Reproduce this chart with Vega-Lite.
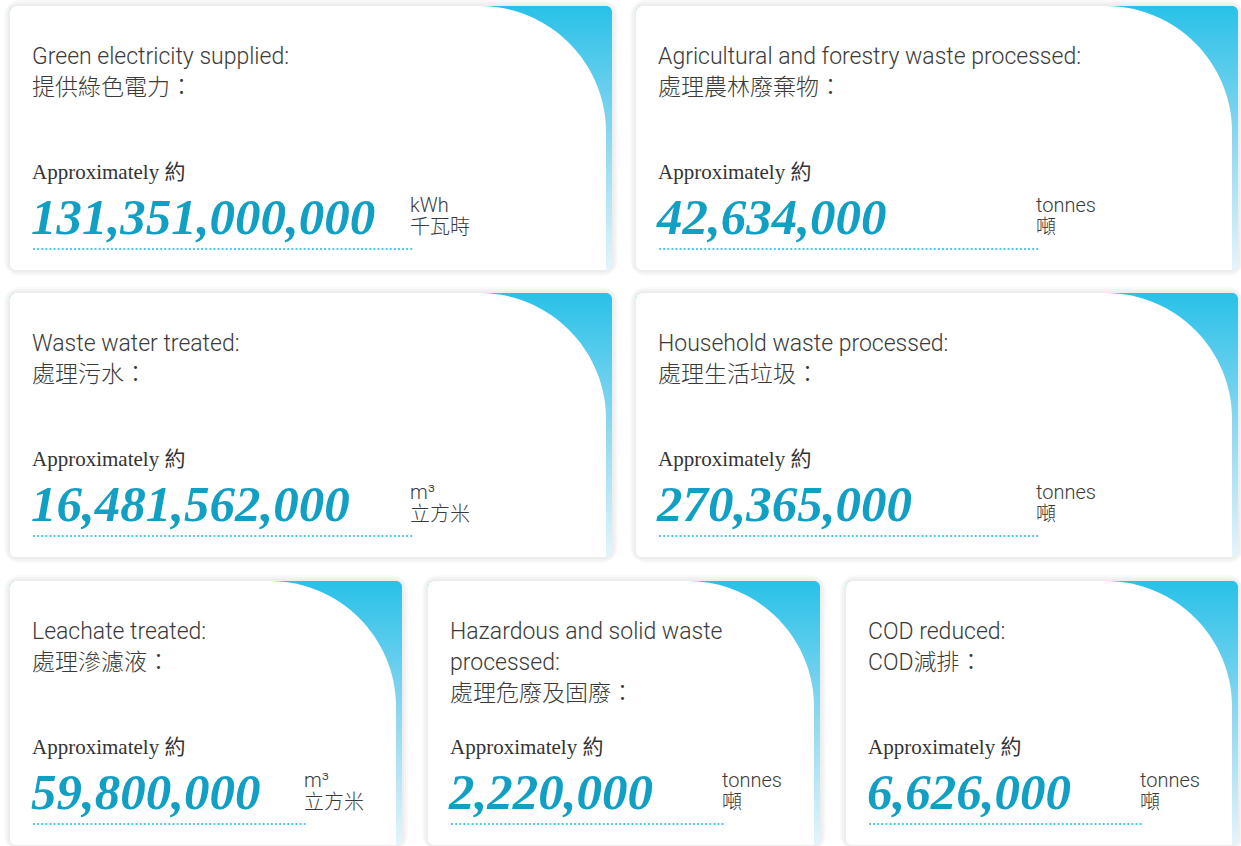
{
  "$schema": "https://vega.github.io/schema/vega-lite/v6.json",
  "background": "white",
  "padding": {"left": 4, "top": 0, "right": 0, "bottom": 0},
  "config": {"view": {"stroke": null}, "axis": {"disable": true}, "header": {"labels": false, "labelFontSize": 0, "labelPadding": 0, "titleFontSize": 0, "titlePadding": 0}},
  "datasets": {
    "cards": [
      {"id": 1, "label": "Green electricity supplied:\n提供綠色電力：", "value": 131351000000, "unit_en": "kWh", "unit_zh": "千瓦時"},
      {"id": 2, "label": "Agricultural and forestry waste processed:\n處理農林廢棄物：", "value": 42634000, "unit_en": "tonnes", "unit_zh": "噸"},
      {"id": 3, "label": "Waste water treated:\n處理污水：", "value": 16481562000, "unit_en": "m³", "unit_zh": "立方米"},
      {"id": 4, "label": "Household waste processed:\n處理生活垃圾：", "value": 270365000, "unit_en": "tonnes", "unit_zh": "噸"},
      {"id": 5, "label": "Leachate treated:\n處理滲濾液：", "value": 59800000, "unit_en": "m³", "unit_zh": "立方米"},
      {"id": 6, "label": "Hazardous and solid waste\nprocessed:\n處理危廢及固廢：", "value": 2220000, "unit_en": "tonnes", "unit_zh": "噸"},
      {"id": 7, "label": "COD reduced:\nCOD減排：", "value": 6626000, "unit_en": "tonnes", "unit_zh": "噸"}
    ]
  },
  "spacing": 12,
  "vconcat": [
    {
      "data": {"name": "cards"},
      "transform": [{"filter": "datum.id <= 4"}],
      "facet": {"field": "id", "type": "ordinal", "header": {"title": null, "labels": false, "labelExpr": "''", "labelFontSize": 0, "labelPadding": 0}},
      "columns": 2,
      "spacing": {"row": 11, "column": 12},
      "spec": {
        "width": 602,
        "height": 264,
        "layer": [
          {"mark": {"type": "rect", "fillOpacity": 0, "stroke": "#000", "strokeOpacity": 0.022, "strokeWidth": 12, "cornerRadius": 10},
           "encoding": {"x": {"datum": 0, "type": "quantitative", "scale": {"domain": [0, 602]}}, "x2": {"datum": 602}, "y": {"datum": 0, "type": "quantitative", "scale": {"domain": [0, 264], "reverse": true}}, "y2": {"datum": 264}}},
          {"mark": {"type": "rect", "fillOpacity": 0, "stroke": "#000", "strokeOpacity": 0.022, "strokeWidth": 8, "cornerRadius": 8},
           "encoding": {"x": {"datum": 0, "type": "quantitative", "scale": {"domain": [0, 602]}}, "x2": {"datum": 602}, "y": {"datum": 0, "type": "quantitative", "scale": {"domain": [0, 264], "reverse": true}}, "y2": {"datum": 264}}},
          {"mark": {"type": "rect", "fillOpacity": 0, "stroke": "#000", "strokeOpacity": 0.025, "strokeWidth": 4, "cornerRadius": 7},
           "encoding": {"x": {"datum": 0, "type": "quantitative", "scale": {"domain": [0, 602]}}, "x2": {"datum": 602}, "y": {"datum": 0, "type": "quantitative", "scale": {"domain": [0, 264], "reverse": true}}, "y2": {"datum": 264}}},
          {"mark": {"type": "rect", "cornerRadius": 6, "opacity": 1, "color": {"gradient": "linear", "x1": 0, "y1": 0, "x2": 0, "y2": 1, "stops": [{"offset": 0, "color": "#29c1e8"}, {"offset": 0.5, "color": "#8cd7f0"}, {"offset": 1, "color": "#e4f5fb"}]}},
           "encoding": {"x": {"datum": 0, "type": "quantitative", "scale": {"domain": [0, 602]}}, "x2": {"datum": 602}, "y": {"datum": 0, "type": "quantitative", "scale": {"domain": [0, 264], "reverse": true}}, "y2": {"datum": 264}}},
          {"mark": {"type": "rect", "color": "#ffffff", "opacity": 1, "cornerRadiusTopLeft": 6, "cornerRadiusBottomLeft": 6, "cornerRadiusTopRight": 126},
           "encoding": {"x": {"datum": 0, "type": "quantitative", "scale": {"domain": [0, 602]}}, "x2": {"datum": 596}, "y": {"datum": 0, "type": "quantitative", "scale": {"domain": [0, 264], "reverse": true}}, "y2": {"datum": 264}}},
          {"mark": {"type": "text", "align": "left", "baseline": "alphabetic", "lineBreak": "\n", "lineHeight": 31, "font": "Roboto, Noto Sans CJK TC", "fontWeight": 300, "fontSize": 23, "letterSpacing": 0.6, "color": "#3a3a3a"},
           "encoding": {"text": {"field": "label"}, "x": {"datum": 22, "type": "quantitative", "scale": {"domain": [0, 602]}}, "y": {"datum": 58, "type": "quantitative", "scale": {"domain": [0, 264], "reverse": true}}}},
          {"mark": {"type": "text", "align": "left", "baseline": "alphabetic", "font": "Liberation Serif, Noto Sans CJK TC", "fontSize": 21, "color": "#333333"},
           "encoding": {"text": {"value": "Approximately 約"}, "x": {"datum": 22, "type": "quantitative", "scale": {"domain": [0, 602]}}, "y": {"datum": 173, "type": "quantitative", "scale": {"domain": [0, 264], "reverse": true}}}},
          {"mark": {"type": "text", "align": "left", "baseline": "alphabetic", "font": "Liberation Serif", "fontStyle": "italic", "fontWeight": "bold", "fontSize": 51, "color": "#11a0c4"},
           "encoding": {"text": {"field": "value", "type": "quantitative", "format": ","}, "x": {"datum": 21, "type": "quantitative", "scale": {"domain": [0, 602]}}, "y": {"datum": 228, "type": "quantitative", "scale": {"domain": [0, 264], "reverse": true}}}},
          {"mark": {"type": "rule", "color": "#3fc2e7", "strokeWidth": 2.2, "strokeCap": "round", "strokeDash": [0.1, 4]},
           "encoding": {"x": {"datum": 24, "type": "quantitative", "scale": {"domain": [0, 602]}}, "x2": {"datum": 403}, "y": {"datum": 243, "type": "quantitative", "scale": {"domain": [0, 264], "reverse": true}}}},
          {"mark": {"type": "text", "align": "left", "baseline": "alphabetic", "font": "Roboto", "fontWeight": 300, "fontSize": 20, "color": "#3a3a3a"},
           "encoding": {"text": {"field": "unit_en"}, "x": {"datum": 400, "type": "quantitative", "scale": {"domain": [0, 602]}}, "y": {"datum": 206, "type": "quantitative", "scale": {"domain": [0, 264], "reverse": true}}}},
          {"mark": {"type": "text", "align": "left", "baseline": "alphabetic", "font": "Noto Sans CJK TC", "fontWeight": 300, "fontSize": 20, "color": "#3a3a3a"},
           "encoding": {"text": {"field": "unit_zh"}, "x": {"datum": 400, "type": "quantitative", "scale": {"domain": [0, 602]}}, "y": {"datum": 228, "type": "quantitative", "scale": {"domain": [0, 264], "reverse": true}}}}
        ]
      }
    },
    {
      "data": {"name": "cards"},
      "transform": [{"filter": "datum.id >= 5"}],
      "facet": {"field": "id", "type": "ordinal", "header": {"title": null, "labels": false, "labelExpr": "''", "labelFontSize": 0, "labelPadding": 0}},
      "columns": 3,
      "spacing": {"row": 11, "column": 14},
      "spec": {
        "width": 392,
        "height": 264,
        "layer": [
          {"mark": {"type": "rect", "fillOpacity": 0, "stroke": "#000", "strokeOpacity": 0.022, "strokeWidth": 12, "cornerRadius": 10},
           "encoding": {"x": {"datum": 0, "type": "quantitative", "scale": {"domain": [0, 392]}}, "x2": {"datum": 392}, "y": {"datum": 0, "type": "quantitative", "scale": {"domain": [0, 264], "reverse": true}}, "y2": {"datum": 264}}},
          {"mark": {"type": "rect", "fillOpacity": 0, "stroke": "#000", "strokeOpacity": 0.022, "strokeWidth": 8, "cornerRadius": 8},
           "encoding": {"x": {"datum": 0, "type": "quantitative", "scale": {"domain": [0, 392]}}, "x2": {"datum": 392}, "y": {"datum": 0, "type": "quantitative", "scale": {"domain": [0, 264], "reverse": true}}, "y2": {"datum": 264}}},
          {"mark": {"type": "rect", "fillOpacity": 0, "stroke": "#000", "strokeOpacity": 0.025, "strokeWidth": 4, "cornerRadius": 7},
           "encoding": {"x": {"datum": 0, "type": "quantitative", "scale": {"domain": [0, 392]}}, "x2": {"datum": 392}, "y": {"datum": 0, "type": "quantitative", "scale": {"domain": [0, 264], "reverse": true}}, "y2": {"datum": 264}}},
          {"mark": {"type": "rect", "cornerRadius": 6, "opacity": 1, "color": {"gradient": "linear", "x1": 0, "y1": 0, "x2": 0, "y2": 1, "stops": [{"offset": 0, "color": "#29c1e8"}, {"offset": 0.5, "color": "#8cd7f0"}, {"offset": 1, "color": "#e4f5fb"}]}},
           "encoding": {"x": {"datum": 0, "type": "quantitative", "scale": {"domain": [0, 392]}}, "x2": {"datum": 392}, "y": {"datum": 0, "type": "quantitative", "scale": {"domain": [0, 264], "reverse": true}}, "y2": {"datum": 264}}},
          {"mark": {"type": "rect", "color": "#ffffff", "opacity": 1, "cornerRadiusTopLeft": 6, "cornerRadiusBottomLeft": 6, "cornerRadiusTopRight": 126},
           "encoding": {"x": {"datum": 0, "type": "quantitative", "scale": {"domain": [0, 392]}}, "x2": {"datum": 386}, "y": {"datum": 0, "type": "quantitative", "scale": {"domain": [0, 264], "reverse": true}}, "y2": {"datum": 264}}},
          {"mark": {"type": "text", "align": "left", "baseline": "alphabetic", "lineBreak": "\n", "lineHeight": 31, "font": "Roboto, Noto Sans CJK TC", "fontWeight": 300, "fontSize": 23, "letterSpacing": 0.6, "color": "#3a3a3a"},
           "encoding": {"text": {"field": "label"}, "x": {"datum": 22, "type": "quantitative", "scale": {"domain": [0, 392]}}, "y": {"datum": 58, "type": "quantitative", "scale": {"domain": [0, 264], "reverse": true}}}},
          {"mark": {"type": "text", "align": "left", "baseline": "alphabetic", "font": "Liberation Serif, Noto Sans CJK TC", "fontSize": 21, "color": "#333333"},
           "encoding": {"text": {"value": "Approximately 約"}, "x": {"datum": 22, "type": "quantitative", "scale": {"domain": [0, 392]}}, "y": {"datum": 173, "type": "quantitative", "scale": {"domain": [0, 264], "reverse": true}}}},
          {"mark": {"type": "text", "align": "left", "baseline": "alphabetic", "font": "Liberation Serif", "fontStyle": "italic", "fontWeight": "bold", "fontSize": 51, "color": "#11a0c4"},
           "encoding": {"text": {"field": "value", "type": "quantitative", "format": ","}, "x": {"datum": 21, "type": "quantitative", "scale": {"domain": [0, 392]}}, "y": {"datum": 228, "type": "quantitative", "scale": {"domain": [0, 264], "reverse": true}}}},
          {"mark": {"type": "rule", "color": "#3fc2e7", "strokeWidth": 2.2, "strokeCap": "round", "strokeDash": [0.1, 4]},
           "encoding": {"x": {"datum": 24, "type": "quantitative", "scale": {"domain": [0, 392]}}, "x2": {"datum": 296}, "y": {"datum": 243, "type": "quantitative", "scale": {"domain": [0, 264], "reverse": true}}}},
          {"mark": {"type": "text", "align": "left", "baseline": "alphabetic", "font": "Roboto", "fontWeight": 300, "fontSize": 20, "color": "#3a3a3a"},
           "encoding": {"text": {"field": "unit_en"}, "x": {"datum": 294, "type": "quantitative", "scale": {"domain": [0, 392]}}, "y": {"datum": 206, "type": "quantitative", "scale": {"domain": [0, 264], "reverse": true}}}},
          {"mark": {"type": "text", "align": "left", "baseline": "alphabetic", "font": "Noto Sans CJK TC", "fontWeight": 300, "fontSize": 20, "color": "#3a3a3a"},
           "encoding": {"text": {"field": "unit_zh"}, "x": {"datum": 294, "type": "quantitative", "scale": {"domain": [0, 392]}}, "y": {"datum": 228, "type": "quantitative", "scale": {"domain": [0, 264], "reverse": true}}}}
        ]
      }
    }
  ]
}
